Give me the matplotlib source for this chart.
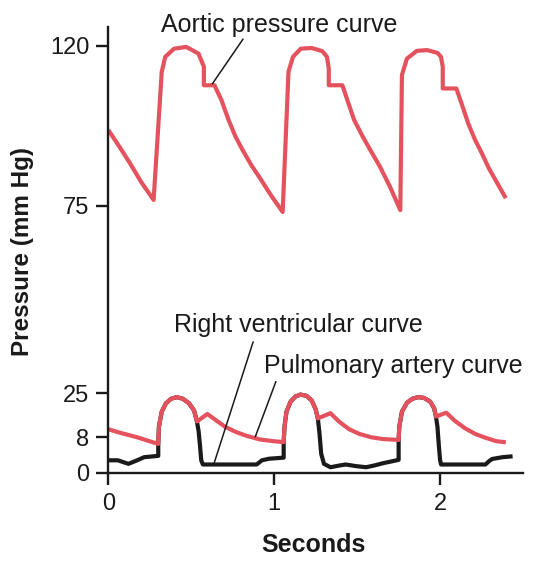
import numpy as np
import matplotlib
matplotlib.use('Agg')
import matplotlib.pyplot as plt

plt.rcParams['font.family'] = ['Liberation Sans', 'DejaVu Sans']

# aortic pressure (mm Hg) vs time (s)
aorta_t = [0.000, 0.068, 0.131, 0.200, 0.273, 0.322, 0.343, 0.396, 0.470, 0.544, 0.576,
           0.576, 0.640, 0.682, 0.725, 0.767, 0.809, 0.862, 0.915, 0.979, 1.051,
           1.086, 1.113, 1.160, 1.226, 1.290, 1.318, 1.329, 1.329, 1.411, 1.441, 1.482,
           1.534, 1.585, 1.637, 1.698, 1.760,
           1.770, 1.800, 1.860, 1.923, 1.985, 2.005, 2.016, 2.016, 2.098, 2.129, 2.170,
           2.211, 2.252, 2.294, 2.345, 2.396]
aorta_p = [96.3, 91.5, 86.9, 81.5, 76.6, 112.7, 116.9, 119.2, 119.7, 117.8, 114.1,
           108.9, 108.9, 104.7, 99.1, 94.4, 90.7, 86.4, 82.7, 78.0, 73.3,
           112.7, 116.9, 119.2, 119.4, 118.5, 116.9, 113.6, 108.9, 108.9, 104.7, 99.1,
           94.4, 90.2, 86.0, 80.3, 73.8,
           111.8, 116.4, 118.6, 118.8, 118.0, 116.9, 114.1, 108.0, 108.0, 103.8, 98.1,
           93.5, 89.7, 85.5, 81.3, 77.1]

# pulmonary artery pressure
pa_t = [0.000, 0.068, 0.174, 0.258, 0.301, 0.305, 0.322, 0.347, 0.379, 0.413, 0.449,
        0.487, 0.517, 0.534, 0.597, 0.640, 0.703, 0.767, 0.831, 0.915, 1.000, 1.057,
        1.062, 1.074, 1.099, 1.127, 1.158, 1.195, 1.226, 1.250, 1.263, 1.339, 1.390,
        1.452, 1.513, 1.585, 1.657, 1.750,
        1.754, 1.770, 1.801, 1.834, 1.868, 1.903, 1.940, 1.964, 1.975, 2.037, 2.088,
        2.150, 2.211, 2.273, 2.335, 2.396]
pa_p = [11.1, 9.8, 8.0, 7.0, 6.5, 12.1, 17.9, 21.1, 22.9, 23.5, 22.9,
        21.1, 18.3, 14.1, 17.0, 15.0, 12.1, 10.1, 8.6, 7.5, 7.1, 6.9,
        12.1, 17.9, 21.8, 23.7, 24.5, 24.0, 22.2, 18.8, 15.3, 17.3, 14.1,
        11.1, 9.3, 8.0, 7.6, 7.4,
        12.1, 17.9, 21.4, 22.9, 23.5, 23.2, 21.8, 19.2, 16.0, 17.5, 14.4,
        11.5, 9.3, 7.9, 7.15, 6.85]

# right ventricular pressure
rv_t = [0.000, 0.057, 0.121, 0.174, 0.216, 0.301, 0.301, 0.305, 0.322, 0.347, 0.379,
        0.413, 0.449, 0.487, 0.517, 0.534, 0.544, 0.553, 0.560, 0.570, 0.894, 0.926,
        0.968, 1.057, 1.057, 1.062, 1.074, 1.099, 1.127, 1.158, 1.195, 1.226, 1.250,
        1.263, 1.273, 1.283, 1.300, 1.339, 1.390, 1.431, 1.490, 1.554, 1.600, 1.657,
        1.739, 1.750, 1.750, 1.754, 1.770, 1.801, 1.834, 1.868, 1.903, 1.940, 1.964,
        1.975, 1.984, 1.993, 2.000, 2.006, 2.273, 2.295, 2.314, 2.376, 2.437]
rv_p = [2.8, 2.8, 2.0, 2.8, 3.5, 3.8, 6.5, 12.1, 17.9, 21.1, 22.9,
        23.5, 22.9, 21.1, 18.3, 14.1, 10.5, 6.0, 2.8, 1.85, 1.85, 2.8,
        3.15, 3.4, 6.9, 12.1, 17.9, 21.8, 23.7, 24.5, 24.0, 22.2, 18.8,
        15.3, 9.5, 4.3, 2.0, 1.23, 1.6, 1.85, 1.5, 1.23, 1.6, 2.15,
        2.8, 2.9, 7.4, 12.1, 17.9, 21.4, 22.9, 23.5, 23.2, 21.8, 19.2,
        16.0, 12.1, 5.85, 2.8, 1.85, 1.85, 2.6, 3.1, 3.5, 3.7]

yticks = [0, 8, 25, 75, 120]
xticks = [0, 1, 2]

# schematic (uneven) pressure axis: tick value -> height
scale_vals = np.array([0, 8, 25, 75, 120, 140])
scale_pos = np.array([0, 35.4, 79.4, 267.0, 426.7, 497.7])


def fwd(v):
    return np.interp(v, scale_vals, scale_pos)


def inv(p):
    return np.interp(p, scale_pos, scale_vals)


red = '#e4525e'
ink = '#1a1a1a'

fig = plt.figure(figsize=(5.4, 5.64), dpi=100)
ax = fig.add_axes([0.2006, 0.1619, 0.768, 0.7908])
ax.set_yscale('function', functions=(fwd, inv))

ax.plot(rv_t, rv_p, color=ink, lw=3.0, solid_joinstyle='round', solid_capstyle='butt')
ax.plot(pa_t, pa_p, color=red, lw=3.0, solid_joinstyle='round', solid_capstyle='butt')
ax.plot(aorta_t, aorta_p, color=red, lw=3.0, solid_joinstyle='round', solid_capstyle='butt')

ax.set_xlim(0, 2.5)
ax.set_ylim(0, 125.4)
ax.set_xticks(xticks)
ax.set_yticks(yticks)
ax.yaxis.set_minor_locator(matplotlib.ticker.NullLocator())
ax.tick_params(direction='out', length=8.6, width=1.7, colors=ink, labelsize=17)
ax.tick_params(axis='y', pad=5)
ax.tick_params(axis='x', pad=6)
for s in ['top', 'right']:
    ax.spines[s].set_visible(False)
for s in ['left', 'bottom']:
    ax.spines[s].set_linewidth(1.7)
    ax.spines[s].set_color(ink)

fig.text(22.5 / 540, 1 - 251.5 / 564, 'Pressure (mm Hg)', rotation=90, ha='center',
         va='center', fontsize=17.5, fontweight='bold', color=ink)
fig.text(313 / 540, 1 - 545 / 564, 'Seconds', ha='center', va='center',
         fontsize=18, fontweight='bold', color=ink)

lead = dict(arrowstyle='-', lw=1.1, color=ink, shrinkA=0, shrinkB=0)
ax.text(1.033, 124.0, 'Aortic pressure curve', ha='center', va='baseline', fontsize=18,
        color=ink, clip_on=False)
ax.annotate('', xy=(0.627, 109.3), xytext=(0.812, 121.9), arrowprops=lead,
            annotation_clip=False)
ax.text(1.143, 41.2, 'Right ventricular curve', ha='center', va='baseline', fontsize=18,
        color=ink)
ax.annotate('', xy=(0.639, 2.3), xytext=(0.873, 38.7), arrowprops=lead)
ax.text(1.715, 30.3, 'Pulmonary artery curve', ha='center', va='baseline', fontsize=18,
        color=ink)
ax.annotate('', xy=(0.886, 8.2), xytext=(1.010, 28.1), arrowprops=lead)

fig.savefig('out.png', dpi=100)
